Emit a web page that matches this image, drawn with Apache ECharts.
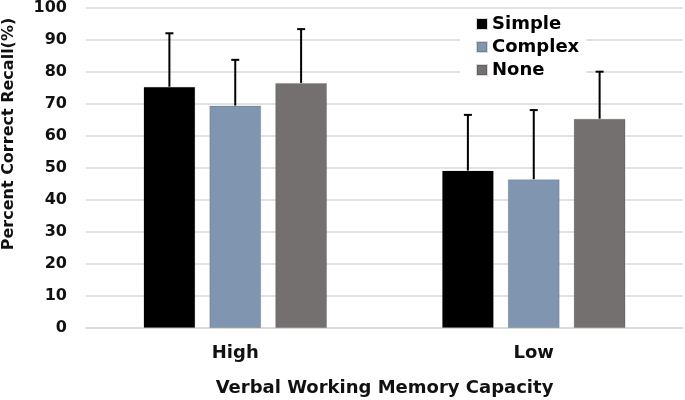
<!DOCTYPE html>
<html>
<head>
<meta charset="utf-8">
<script src="https://cdn.jsdelivr.net/npm/echarts@6/dist/echarts.min.js"></script>
<style>
  html, body { margin: 0; padding: 0; background: #fff; }
  #chart { width: 685px; height: 400px; }
</style>
</head>
<body>
<div id="chart"></div>
<script>
var categories = ["High", "Low"];
var seriesNames = ["Simple", "Complex", "None"];
var simpleMean = [75.4, 49.2];
var complexMean = [69.5, 46.5];
var noneMean = [76.6, 65.4];
// upper end of error bars
var simpleErr = [92.1, 66.6];
var complexErr = [83.8, 68.1];
var noneErr = [93.4, 80.1];
var colors = ["#000000", "#8096b0", "#747070"];

var BAR_CAT_GAP = 0.385;
var BAR_GAP = 0.27;

var myChart = echarts.init(document.getElementById("chart"));
var font = "DejaVu Sans, sans-serif";

// error bar: vertical line from mean to upper value, with small cap
function errorSeries(idx, means, errs) {
  var data = [];
  for (var i = 0; i < categories.length; i++) {
    data.push([i, means[i], errs[i]]);
  }
  return {
    type: "custom",
    name: seriesNames[idx] + " err",
    z: 5,
    data: data,
    renderItem: function (params, api) {
      var band = api.size([1, 0])[0];
      var w = band * (1 - BAR_CAT_GAP) / (3 + 2 * BAR_GAP);
      var offset = (idx - 1) * w * (1 + BAR_GAP);
      var base = api.coord([api.value(0), api.value(1)]);
      var top = api.coord([api.value(0), api.value(2)]);
      var x = base[0] + offset;
      var style = { stroke: "#000", lineWidth: 2 };
      return {
        type: "group",
        children: [
          { type: "line", shape: { x1: x, y1: base[1], x2: x, y2: top[1] }, style: style },
          { type: "line", shape: { x1: x - 4, y1: top[1], x2: x + 4, y2: top[1] }, style: style }
        ]
      };
    }
  };
}

function barSeries(idx, means) {
  return {
    name: seriesNames[idx],
    type: "bar",
    data: means,
    barGap: BAR_GAP * 100 + "%",
    barCategoryGap: BAR_CAT_GAP * 100 + "%",
    itemStyle: { color: colors[idx], borderColor: "rgba(0,0,0,0.15)", borderWidth: 1 }
  };
}

myChart.setOption({
  animation: false,
  textStyle: { fontFamily: font },
  grid: { left: 86, right: 2, top: 8, bottom: 72, containLabel: false, outerBoundsMode: "none" },
  legend: {
    data: seriesNames,
    orient: "vertical",
    left: 460,
    top: 11,
    icon: "rect",
    itemWidth: 10,
    itemHeight: 10,
    itemGap: 5,
    padding: [4, 7, 4, 16],
    backgroundColor: "#fff",
    textStyle: { fontSize: 18, fontWeight: "bold", color: "#000", fontFamily: font }
  },
  xAxis: {
    type: "category",
    data: categories,
    name: "Verbal Working Memory Capacity",
    nameLocation: "middle",
    nameGap: 51,
    nameTextStyle: { fontSize: 18, fontWeight: "bold", color: "#111", fontFamily: font },
    axisLine: { lineStyle: { color: "#d9d9d9", width: 1.5 } },
    axisTick: { show: false },
    axisLabel: { fontSize: 18, fontWeight: "bold", color: "#111", margin: 16, fontFamily: font }
  },
  yAxis: {
    type: "value",
    min: 0,
    max: 100,
    interval: 10,
    name: "Percent Correct Recall(%)",
    nameLocation: "middle",
    nameGap: 69,
    nameTextStyle: { fontSize: 16, fontWeight: "bold", color: "#111", fontFamily: font, padding: [0, 0, 0, 68] },
    axisLine: { show: false },
    axisTick: { show: false },
    axisLabel: { fontSize: 16, fontWeight: "bold", color: "#111", margin: 19, fontFamily: font },
    splitLine: { lineStyle: { color: "#d9d9d9", width: 1.5 } }
  },
  series: [
    barSeries(0, simpleMean),
    barSeries(1, complexMean),
    barSeries(2, noneMean),
    errorSeries(0, simpleMean, simpleErr),
    errorSeries(1, complexMean, complexErr),
    errorSeries(2, noneMean, noneErr)
  ]
});
</script>
</body>
</html>
